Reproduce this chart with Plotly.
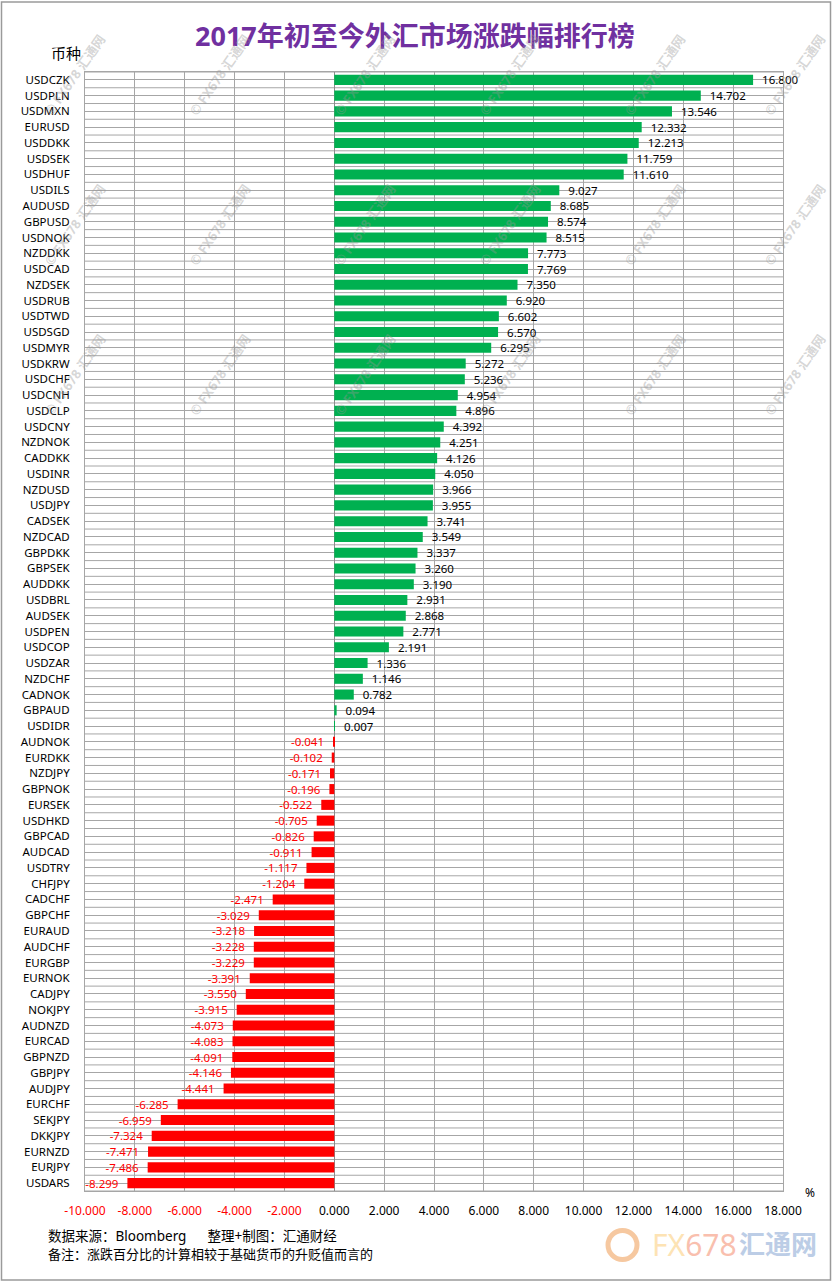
import plotly.graph_objects as go

pairs = ["USDCZK","USDPLN","USDMXN","EURUSD","USDDKK","USDSEK","USDHUF","USDILS","AUDUSD","GBPUSD",
         "USDNOK","NZDDKK","USDCAD","NZDSEK","USDRUB","USDTWD","USDSGD","USDMYR","USDKRW","USDCHF",
         "USDCNH","USDCLP","USDCNY","NZDNOK","CADDKK","USDINR","NZDUSD","USDJPY","CADSEK","NZDCAD",
         "GBPDKK","GBPSEK","AUDDKK","USDBRL","AUDSEK","USDPEN","USDCOP","USDZAR","NZDCHF","CADNOK",
         "GBPAUD","USDIDR","AUDNOK","EURDKK","NZDJPY","GBPNOK","EURSEK","USDHKD","GBPCAD","AUDCAD",
         "USDTRY","CHFJPY","CADCHF","GBPCHF","EURAUD","AUDCHF","EURGBP","EURNOK","CADJPY","NOKJPY",
         "AUDNZD","EURCAD","GBPNZD","GBPJPY","AUDJPY","EURCHF","SEKJPY","DKKJPY","EURNZD","EURJPY",
         "USDARS"]
changes = [16.800,14.702,13.546,12.332,12.213,11.759,11.610,9.027,8.685,8.574,
           8.515,7.773,7.769,7.350,6.920,6.602,6.570,6.295,5.272,5.236,
           4.954,4.896,4.392,4.251,4.126,4.050,3.966,3.955,3.741,3.549,
           3.337,3.260,3.190,2.931,2.868,2.771,2.191,1.336,1.146,0.782,
           0.094,0.007,-0.041,-0.102,-0.171,-0.196,-0.522,-0.705,-0.826,-0.911,
           -1.117,-1.204,-2.471,-3.029,-3.218,-3.228,-3.229,-3.391,-3.550,-3.915,
           -4.073,-4.083,-4.091,-4.146,-4.441,-6.285,-6.959,-7.324,-7.471,-7.486,
           -8.299]
x_ticks = [-10,-8,-6,-4,-2,0,2,4,6,8,10,12,14,16,18]

title = "2017年初至今外汇市场涨跌幅排行榜"
source_note = "数据来源：Bloomberg&nbsp;&nbsp;&nbsp;&nbsp;&nbsp;&nbsp;整理+制图：汇通财经"
remark = "备注：涨跌百分比的计算相较于基础货币的升贬值而言的"

W, H = 832, 1282
L, R, T, B = 85, 783, 71.5, 1191.5
def px(x): return (x - L) / (R - L)
def py(y): return (B - y) / (B - T)

GREEN = "#00B050"
RED = "#FF0000"
GRID = "#A6A6A6"
FONT = "Noto Sans, Noto Sans CJK SC, sans-serif"

colors = [GREEN if v >= 0 else RED for v in changes]
tcolors = ["#000000" if v >= 0 else RED for v in changes]
ttempl = ["  %{x:.3f}" if v >= 0 else "%{x:.3f}  " for v in changes]

fig = go.Figure(go.Bar(
    y=pairs, x=changes, orientation="h",
    marker=dict(color=colors, line=dict(width=0)),
    width=0.64,
    texttemplate=ttempl, textposition="outside",
    textfont=dict(color=tcolors, size=11.5, family=FONT),
    constraintext="none", cliponaxis=False,
    hoverinfo="skip",
))

shapes = []
for i in range(len(pairs) + 1):
    shapes.append(dict(type="line", xref="paper", yref="y", x0=0, x1=1,
                       y0=i - 0.5, y1=i - 0.5, line=dict(color=GRID, width=1), layer="below"))
shapes.append(dict(type="rect", xref="paper", yref="paper",
                   x0=px(1.5), x1=px(830.5), y0=py(1.5), y1=py(1280.5),
                   line=dict(color="#9A9A9A", width=1.5), layer="below"))
shapes.append(dict(type="circle", xref="paper", yref="paper",
                   x0=px(608), x1=px(637), y0=py(1231), y1=py(1260),
                   line=dict(color="#F6C8A0", width=5), layer="above"))

ticktext = []
for t in x_ticks:
    s = f"{t:.3f}"
    ticktext.append(f'<span style="color:{RED}">{s}</span>' if t < 0 else s)

annotations = [
    dict(text=f"<b>{title}</b>", x=px(415), y=py(35), xref="paper", yref="paper",
         showarrow=False, font=dict(size=27, color="#7030A0", family=FONT),
         xanchor="center", yanchor="middle"),
    dict(text="币种", x=px(66), y=py(52), xref="paper", yref="paper", showarrow=False,
         font=dict(size=15, color="#000000", family=FONT), xanchor="center", yanchor="middle"),
    dict(text="%", x=px(810), y=py(1193), xref="paper", yref="paper", showarrow=False,
         font=dict(size=12, color="#000000", family=FONT), xanchor="center", yanchor="middle"),
    dict(text=source_note, x=px(46), y=py(1237), xref="paper", yref="paper", showarrow=False,
         font=dict(size=13.5, color="#000000", family=FONT), xanchor="left", yanchor="middle"),
    dict(text=remark, x=px(46), y=py(1255), xref="paper", yref="paper", showarrow=False,
         font=dict(size=13, color="#000000", family=FONT), xanchor="left", yanchor="middle"),
    dict(text='<span style="color:#FDE3B4">FX</span><span style="color:#F9BFAE">678</span>',
         x=px(650), y=py(1245), xref="paper", yref="paper", showarrow=False,
         font=dict(size=30, family=FONT), xanchor="left", yanchor="middle"),
    dict(text="<b>汇通网</b>", x=px(737), y=py(1245), xref="paper", yref="paper", showarrow=False,
         font=dict(size=26, color="#BCCDE6", family=FONT), xanchor="left", yanchor="middle"),
]

wm_x = [75, 220, 365, 510, 655, 795]
wm_y = [75, 225, 375]
for yy in wm_y:
    for xx in wm_x:
        annotations.append(dict(text="<b>© FX678 汇通网</b>", x=px(xx), y=py(yy), xref="paper", yref="paper",
                                showarrow=False, textangle=-55,
                                font=dict(size=13, color="rgba(150,150,150,0.4)", family=FONT),
                                xanchor="center", yanchor="middle"))

fig.update_layout(
    width=W, height=H,
    margin=dict(l=L, r=W - R, t=T, b=H - B, pad=0),
    paper_bgcolor="white", plot_bgcolor="white",
    showlegend=False,
    font=dict(family=FONT, color="#000000"),
    shapes=shapes, annotations=annotations,
    xaxis=dict(range=[-10, 18], tickvals=x_ticks, ticktext=ticktext,
               showgrid=True, gridcolor=GRID, gridwidth=1,
               zeroline=True, zerolinecolor="#8C8C8C", zerolinewidth=1,
               showline=True, linecolor=GRID, mirror=True,
               ticks="", tickfont=dict(size=12, color="#000000"), ticklabelstandoff=9,
               fixedrange=True),
    yaxis=dict(type="category", categoryorder="array", categoryarray=pairs,
               range=[len(pairs) - 0.5, -0.5],
               showgrid=True, gridcolor=GRID, gridwidth=1,
               showline=True, linecolor=GRID, mirror=True,
               ticks="", tickfont=dict(size=11.5, color="#000000"), ticklabelstandoff=12,
               fixedrange=True),
    bargap=0.36,
)

fig.write_html("out.html", config={"displayModeBar": False},
               post_script="document.body.style.margin='0';document.body.style.overflow='hidden';")
